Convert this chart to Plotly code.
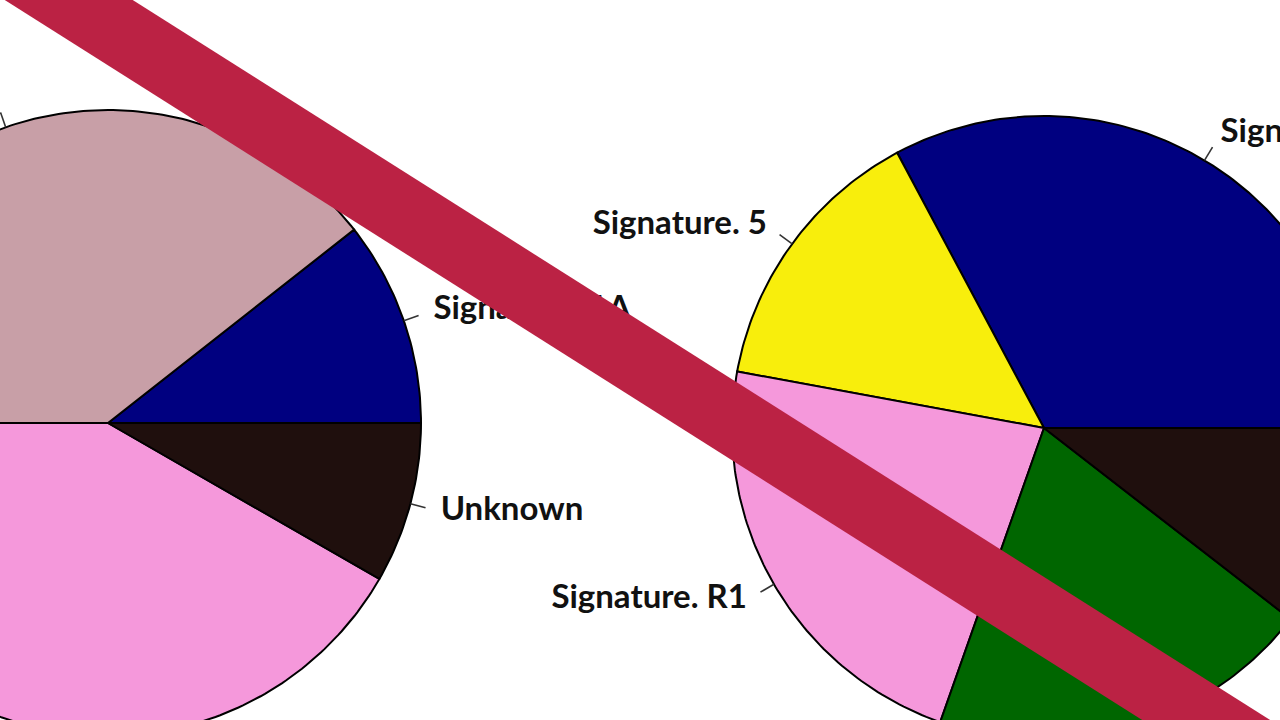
import numpy as np
import plotly.graph_objects as go

# ---- data (slice shares, counter-clockwise from 3 o'clock, as in R's pie()) ----
left_labels = ["Signature. 1A", "", "", "Unknown"]
left_values = [10.6, 39.4, 41.7, 8.3]
left_colors = ["#000080", "#C89FA7", "#F598DB", "#1F0F0D"]

right_labels = ["Signature. 1A", "Signature. 5", "Signature. R1", "", ""]
right_values = [32.8, 14.3, 22.5, 19.9, 10.5]
right_colors = ["#000080", "#F8EE0C", "#F598DB", "#006600", "#1F0F0D"]

W, H = 1280, 720
fig = go.Figure()

label_x, label_y, label_t, label_pos = [], [], [], []


def add_pie(values, labels, colors, cx, cy, r):
    total = float(sum(values))
    start = 0.0
    for v, lab, col in zip(values, labels, colors):
        a0 = start / total * 2 * np.pi
        a1 = (start + v) / total * 2 * np.pi
        start += v
        n = max(3, int((a1 - a0) / (2 * np.pi) * 400))
        t = np.linspace(a0, a1, n)
        xs = np.concatenate([[cx], cx + r * np.cos(t), [cx]])
        ys = np.concatenate([[cy], cy + r * np.sin(t), [cy]])
        fig.add_trace(go.Scatter(x=xs, y=ys, mode="lines", fill="toself",
                                 fillcolor=col, line=dict(color="black", width=2),
                                 hoverinfo="skip", showlegend=False))
        m = (a0 + a1) / 2
        fig.add_trace(go.Scatter(x=[cx + r * np.cos(m), cx + 1.05 * r * np.cos(m)],
                                 y=[cy + r * np.sin(m), cy + 1.05 * r * np.sin(m)],
                                 mode="lines", line=dict(color="#333", width=1.6),
                                 hoverinfo="skip", showlegend=False))
        if lab:
            label_x.append(cx + 1.1 * r * np.cos(m))
            label_y.append(cy + 1.1 * r * np.sin(m))
            label_t.append(lab)
            label_pos.append("middle left" if np.cos(m) < 0 else "middle right")


# pies (y measured upward from the bottom of the canvas)
add_pie(left_values, left_labels, left_colors, 108, H - 423, 313)
add_pie(right_values, right_labels, right_colors, 1044, H - 428, 312)

fig.add_trace(go.Scatter(x=label_x, y=label_y, text=label_t, mode="text",
                         textposition=label_pos,
                         textfont=dict(family="Lato", size=33, color="#111111", weight="bold"),
                         hoverinfo="skip", showlegend=False))

# red strike-through band
def yy(x, c):
    return H - (0.633 * x + c)

band = (f"M -60 {yy(-60, -84)} L 1360 {yy(1360, -84)} "
        f"L 1360 {yy(1360, -3)} L -60 {yy(-60, -3)} Z")
fig.add_shape(type="path", path=band, xref="x", yref="y",
              fillcolor="#BB2244", line=dict(width=0), layer="above")

fig.update_layout(
    width=W, height=H, margin=dict(l=0, r=0, t=0, b=0),
    paper_bgcolor="white", plot_bgcolor="white",
    xaxis=dict(range=[0, W], visible=False, fixedrange=True),
    yaxis=dict(range=[0, H], visible=False, fixedrange=True),
    showlegend=False,
)

fig.write_html("out.html", post_script="document.body.style.margin='0';",
               config={"displayModeBar": False})
